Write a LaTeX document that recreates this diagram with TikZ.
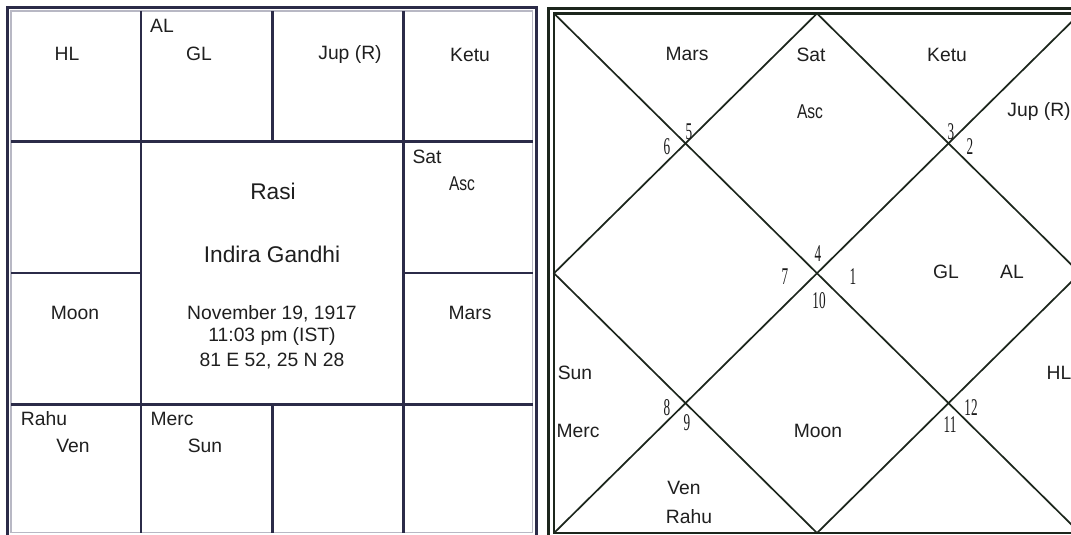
\documentclass[tikz,border=0pt]{standalone}
\usepackage{fontspec}
\setmainfont{Liberation Sans}
\newfontfamily\ascfont[FakeStretch=0.78]{Liberation Sans}
\newfontfamily\numfont[FakeStretch=0.55]{Liberation Serif}
\definecolor{gridc}{HTML}{2B2B48}
\definecolor{shadec}{HTML}{B8B8C4}
\definecolor{linec}{HTML}{1C261C}
\begin{document}
\begin{tikzpicture}[x=1pt,y=-1pt,
  lbl/.style={inner sep=0pt, font=\fontsize{19.3}{21}\selectfont, text=black!88},
  bigtxt/.style={inner sep=0pt, font=\fontsize{22.7}{25}\selectfont, text=black!88},
  asclbl/.style={inner sep=0pt, font=\ascfont\fontsize{20}{22}\selectfont, text=black!88},
  numlbl/.style={inner sep=0pt, font=\numfont\fontsize{24}{26}\selectfont, text=black!90},
  gridline/.style={draw=gridc, line width=2.7pt},
  frameline/.style={draw=gridc, line width=3pt},
  shadeline/.style={draw=shadec, line width=1.4pt},
  chartline/.style={draw=linec, line width=1.7pt},
  rframe/.style={draw=linec, line width=2.6pt}]
\useasboundingbox (0,0) rectangle (1071,535);
\fill[white] (0,0) rectangle (1071,535);
\clip (0,0) rectangle (1071,535);

% ---------- left chart (Rasi, south Indian style) ----------
\coordinate (L0) at (11,11);
\coordinate (L1) at (141,141.7);
\coordinate (L2) at (272.5,273);
\coordinate (L3) at (403.3,404.3);
\coordinate (L4) at (532.5,532.5);
\draw[frameline] (7.7,7.7) rectangle (536.6,536.3);
\draw[shadeline] (L0) rectangle (L4);
% horizontal lines
\draw[gridline] (L0 |- L1) -- (L4 |- L1);
\draw[gridline] (L0 |- L3) -- (L4 |- L3);
\draw[gridline] (L0 |- L2) -- (L1 |- L2);
\draw[gridline] (L3 |- L2) -- (L4 |- L2);
% vertical lines
\draw[gridline] (L1 |- L0) -- (L1 |- L4);
\draw[gridline] (L3 |- L0) -- (L3 |- L4);
\draw[gridline] (L2 |- L0) -- (L2 |- L1);
\draw[gridline] (L2 |- L3) -- (L2 |- L4);

\node[lbl] (lHL) at (67,54) {HL};
\node[lbl] (lAL) at (162,26) {AL};
\node[lbl] (lGL) at (199,54) {GL};
\node[lbl] (lJup) at (350,55) {Jup (R)};
\node[lbl] (lKetu) at (470,55) {Ketu};
\node[lbl] (lSat) at (427,157) {Sat};
\node[asclbl] (lAsc) at (462,184) {Asc};
\node[bigtxt] (rasi) at (273,191) {Rasi};
\node[bigtxt] (name) at (272,254) {Indira Gandhi};
\node[lbl] (date) at (272,314) {November 19, 1917};
\node[lbl] (time) at (272,337) {11:03 pm (IST)};
\node[lbl] (place) at (272,361) {81 E 52, 25 N 28};
\node[lbl] (lMoon) at (75,313) {Moon};
\node[lbl] (lMars) at (470,313) {Mars};
\node[lbl] (lRahu) at (44,419) {Rahu};
\node[lbl] (lVen) at (73,446) {Ven};
\node[lbl] (lMerc) at (172,419) {Merc};
\node[lbl] (lSun) at (205,446) {Sun};

% ---------- right chart (north Indian style) ----------
\coordinate (TL) at (554,13.5);
\coordinate (TR) at (1080,13.5);
\coordinate (BL) at (554,533);
\coordinate (BR) at (1080,533);
\coordinate (TM) at (817,13.5);
\coordinate (BM) at (817,533);
\coordinate (LM) at (554,273.25);
\coordinate (RM) at (1080,273.25);
\draw[rframe] (548.7,8.7) rectangle (1086,539);
\draw[rframe, line width=2.3pt] (TL) rectangle (BR);
\draw[chartline] (TL) -- (BR);
\draw[chartline] (BL) -- (TR);
\draw[chartline] (TM) -- (RM) -- (BM) -- (LM) -- cycle;

\node[lbl] (rMars) at (687,54) {Mars};
\node[lbl] (rSat) at (811,55) {Sat};
\node[asclbl] (rAsc) at (810,112) {Asc};
\node[lbl] (rKetu) at (947,55) {Ketu};
\node[lbl] (rJup) at (1039,112) {Jup (R)};
\node[lbl] (rGL) at (946,272) {GL};
\node[lbl] (rAL) at (1012,272) {AL};
\node[lbl] (rSun) at (575,373) {Sun};
\node[lbl] (rMerc) at (578,431) {Merc};
\node[lbl] (rHL) at (1059,373) {HL};
\node[lbl] (rMoon) at (818,431) {Moon};
\node[lbl] (rVen) at (684,488) {Ven};
\node[lbl] (rRahu) at (689,517) {Rahu};

\node[numlbl] (n5) at (689,132) {5};
\node[numlbl] (n6) at (667,147) {6};
\node[numlbl] (n3) at (951,132) {3};
\node[numlbl] (n2) at (970,147) {2};
\node[numlbl] (n4) at (818,254) {4};
\node[numlbl] (n7) at (785,277) {7};
\node[numlbl] (n1) at (853,277) {1};
\node[numlbl] (n10) at (819,301) {10};
\node[numlbl] (n8) at (667,408) {8};
\node[numlbl] (n9) at (687,423) {9};
\node[numlbl] (n12) at (971,408) {12};
\node[numlbl] (n11) at (950,425) {11};
\end{tikzpicture}
\end{document}
